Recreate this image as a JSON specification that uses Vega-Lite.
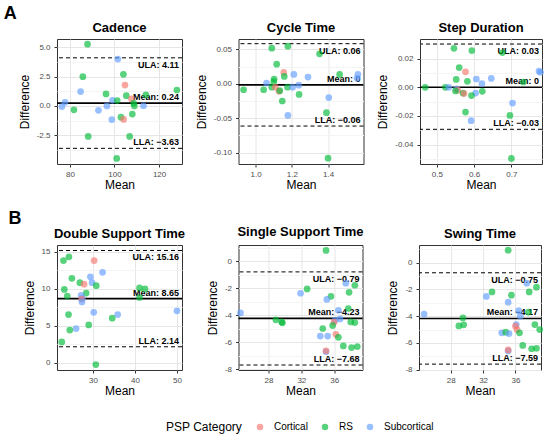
{
  "$schema": "https://vega.github.io/schema/vega-lite/v6.json",
  "background": "white",
  "padding": {"left": 3, "top": 5, "right": 5, "bottom": 5},
  "datasets": {
    "pts": [
      {"p": "cad", "m": 87.9, "d": 5.28, "c": "RS"},
      {"p": "cad", "m": 101.5, "d": 4.0, "c": "Subcortical"},
      {"p": "cad", "m": 104.0, "d": 2.7, "c": "RS"},
      {"p": "cad", "m": 85.8, "d": 2.5, "c": "RS"},
      {"p": "cad", "m": 104.7, "d": 1.78, "c": "Cortical"},
      {"p": "cad", "m": 84.8, "d": 1.22, "c": "Subcortical"},
      {"p": "cad", "m": 96.2, "d": 1.02, "c": "RS"},
      {"p": "cad", "m": 105.3, "d": 0.87, "c": "RS"},
      {"p": "cad", "m": 107.6, "d": 0.6, "c": "Cortical"},
      {"p": "cad", "m": 114.1, "d": 0.95, "c": "RS"},
      {"p": "cad", "m": 128.0, "d": 1.36, "c": "RS"},
      {"p": "cad", "m": 77.8, "d": 0.31, "c": "Subcortical"},
      {"p": "cad", "m": 76.4, "d": -0.06, "c": "Subcortical"},
      {"p": "cad", "m": 81.8, "d": -0.34, "c": "RS"},
      {"p": "cad", "m": 92.8, "d": -0.38, "c": "Subcortical"},
      {"p": "cad", "m": 96.6, "d": 0.0, "c": "Subcortical"},
      {"p": "cad", "m": 99.1, "d": 0.48, "c": "Subcortical"},
      {"p": "cad", "m": 101.2, "d": 0.45, "c": "RS"},
      {"p": "cad", "m": 108.6, "d": 0.23, "c": "RS"},
      {"p": "cad", "m": 108.9, "d": 0.0, "c": "RS"},
      {"p": "cad", "m": 113.0, "d": 0.01, "c": "Subcortical"},
      {"p": "cad", "m": 108.0, "d": -0.7, "c": "RS"},
      {"p": "cad", "m": 102.9, "d": -0.97, "c": "RS"},
      {"p": "cad", "m": 98.8, "d": -1.17, "c": "Subcortical"},
      {"p": "cad", "m": 104.1, "d": -1.16, "c": "Cortical"},
      {"p": "cad", "m": 88.2, "d": -2.61, "c": "RS"},
      {"p": "cad", "m": 106.8, "d": -2.61, "c": "RS"},
      {"p": "cad", "m": 101.0, "d": -4.49, "c": "RS"},

      {"p": "cyc", "m": 1.089, "d": 0.0517, "c": "RS"},
      {"p": "cyc", "m": 1.178, "d": 0.0546, "c": "RS"},
      {"p": "cyc", "m": 1.353, "d": 0.0435, "c": "RS"},
      {"p": "cyc", "m": 1.116, "d": 0.0285, "c": "RS"},
      {"p": "cyc", "m": 1.155, "d": 0.0164, "c": "Cortical"},
      {"p": "cyc", "m": 1.158, "d": 0.0106, "c": "RS"},
      {"p": "cyc", "m": 1.211, "d": 0.0135, "c": "Subcortical"},
      {"p": "cyc", "m": 1.289, "d": 0.0097, "c": "Subcortical"},
      {"p": "cyc", "m": 1.464, "d": 0.0135, "c": "RS"},
      {"p": "cyc", "m": 1.565, "d": 0.0135, "c": "Subcortical"},
      {"p": "cyc", "m": 1.56, "d": 0.008, "c": "Subcortical"},
      {"p": "cyc", "m": 1.102, "d": 0.0068, "c": "RS"},
      {"p": "cyc", "m": 1.1, "d": 0.003, "c": "RS"},
      {"p": "cyc", "m": 1.06, "d": 0.001, "c": "Subcortical"},
      {"p": "cyc", "m": 1.089, "d": -0.005, "c": "RS"},
      {"p": "cyc", "m": 1.109, "d": -0.005, "c": "Cortical"},
      {"p": "cyc", "m": 1.129, "d": -0.011, "c": "Cortical"},
      {"p": "cyc", "m": 1.133, "d": -0.01, "c": "RS"},
      {"p": "cyc", "m": 1.176, "d": -0.005, "c": "RS"},
      {"p": "cyc", "m": 1.204, "d": -0.005, "c": "Subcortical"},
      {"p": "cyc", "m": 1.238, "d": -0.002, "c": "Subcortical"},
      {"p": "cyc", "m": 0.933, "d": -0.0087, "c": "RS"},
      {"p": "cyc", "m": 1.044, "d": -0.0087, "c": "RS"},
      {"p": "cyc", "m": 1.24, "d": -0.0155, "c": "RS"},
      {"p": "cyc", "m": 1.147, "d": -0.025, "c": "RS"},
      {"p": "cyc", "m": 1.404, "d": -0.02, "c": "Subcortical"},
      {"p": "cyc", "m": 1.178, "d": -0.046, "c": "Subcortical"},
      {"p": "cyc", "m": 1.391, "d": -0.042, "c": "RS"},
      {"p": "cyc", "m": 1.4, "d": -0.108, "c": "RS"},

      {"p": "step", "m": 0.546, "d": 0.0272, "c": "RS"},
      {"p": "step", "m": 0.594, "d": 0.0256, "c": "RS"},
      {"p": "step", "m": 0.676, "d": 0.0242, "c": "RS"},
      {"p": "step", "m": 0.774, "d": 0.0113, "c": "Subcortical"},
      {"p": "step", "m": 0.778, "d": 0.0105, "c": "Subcortical"},
      {"p": "step", "m": 0.56, "d": 0.0138, "c": "RS"},
      {"p": "step", "m": 0.577, "d": 0.0108, "c": "Cortical"},
      {"p": "step", "m": 0.552, "d": 0.0055, "c": "RS"},
      {"p": "step", "m": 0.582, "d": 0.0042, "c": "RS"},
      {"p": "step", "m": 0.606, "d": 0.0058, "c": "Subcortical"},
      {"p": "step", "m": 0.621, "d": 0.0025, "c": "Subcortical"},
      {"p": "step", "m": 0.646, "d": 0.0062, "c": "Subcortical"},
      {"p": "step", "m": 0.732, "d": 0.0037, "c": "RS"},
      {"p": "step", "m": 0.469, "d": 0.0, "c": "RS"},
      {"p": "step", "m": 0.523, "d": 0.0, "c": "RS"},
      {"p": "step", "m": 0.532, "d": 0.0, "c": "Subcortical"},
      {"p": "step", "m": 0.553, "d": -0.001, "c": "Subcortical"},
      {"p": "step", "m": 0.556, "d": -0.002, "c": "Cortical"},
      {"p": "step", "m": 0.55, "d": -0.0025, "c": "RS"},
      {"p": "step", "m": 0.57, "d": -0.004, "c": "RS"},
      {"p": "step", "m": 0.573, "d": -0.0044, "c": "Cortical"},
      {"p": "step", "m": 0.604, "d": -0.004, "c": "Subcortical"},
      {"p": "step", "m": 0.622, "d": -0.0028, "c": "RS"},
      {"p": "step", "m": 0.593, "d": -0.0058, "c": "RS"},
      {"p": "step", "m": 0.703, "d": -0.011, "c": "Subcortical"},
      {"p": "step", "m": 0.577, "d": -0.0173, "c": "RS"},
      {"p": "step", "m": 0.592, "d": -0.0233, "c": "Subcortical"},
      {"p": "step", "m": 0.696, "d": -0.0196, "c": "RS"},
      {"p": "step", "m": 0.7, "d": -0.0496, "c": "RS"},

      {"p": "dst", "m": 23.0, "d": 13.8, "c": "RS"},
      {"p": "dst", "m": 24.3, "d": 14.3, "c": "RS"},
      {"p": "dst", "m": 30.3, "d": 13.8, "c": "Cortical"},
      {"p": "dst", "m": 32.3, "d": 12.2, "c": "Subcortical"},
      {"p": "dst", "m": 25.0, "d": 11.4, "c": "RS"},
      {"p": "dst", "m": 29.4, "d": 11.6, "c": "Subcortical"},
      {"p": "dst", "m": 26.9, "d": 10.8, "c": "RS"},
      {"p": "dst", "m": 27.9, "d": 10.6, "c": "Cortical"},
      {"p": "dst", "m": 29.8, "d": 10.8, "c": "Subcortical"},
      {"p": "dst", "m": 30.8, "d": 10.4, "c": "RS"},
      {"p": "dst", "m": 23.2, "d": 9.9, "c": "RS"},
      {"p": "dst", "m": 28.4, "d": 9.4, "c": "RS"},
      {"p": "dst", "m": 23.9, "d": 9.0, "c": "RS"},
      {"p": "dst", "m": 27.2, "d": 9.1, "c": "Subcortical"},
      {"p": "dst", "m": 27.5, "d": 8.7, "c": "Subcortical"},
      {"p": "dst", "m": 27.3, "d": 8.6, "c": "Cortical"},
      {"p": "dst", "m": 27.4, "d": 8.2, "c": "Subcortical"},
      {"p": "dst", "m": 41.1, "d": 10.1, "c": "RS"},
      {"p": "dst", "m": 42.4, "d": 9.96, "c": "RS"},
      {"p": "dst", "m": 41.1, "d": 8.8, "c": "RS"},
      {"p": "dst", "m": 30.2, "d": 6.8, "c": "Subcortical"},
      {"p": "dst", "m": 50.0, "d": 7.0, "c": "Subcortical"},
      {"p": "dst", "m": 24.2, "d": 6.5, "c": "RS"},
      {"p": "dst", "m": 35.9, "d": 6.5, "c": "Subcortical"},
      {"p": "dst", "m": 34.6, "d": 6.0, "c": "RS"},
      {"p": "dst", "m": 29.0, "d": 5.1, "c": "RS"},
      {"p": "dst", "m": 26.0, "d": 4.6, "c": "Subcortical"},
      {"p": "dst", "m": 24.5, "d": 4.4, "c": "RS"},
      {"p": "dst", "m": 22.6, "d": 2.8, "c": "RS"},
      {"p": "dst", "m": 30.7, "d": -0.27, "c": "RS"},

      {"p": "sst", "m": 35.0, "d": 0.8, "c": "RS"},
      {"p": "sst", "m": 37.4, "d": -1.63, "c": "Subcortical"},
      {"p": "sst", "m": 38.5, "d": -1.78, "c": "RS"},
      {"p": "sst", "m": 32.7, "d": -2.05, "c": "RS"},
      {"p": "sst", "m": 31.9, "d": -2.37, "c": "Subcortical"},
      {"p": "sst", "m": 37.8, "d": -2.3, "c": "RS"},
      {"p": "sst", "m": 35.6, "d": -2.6, "c": "RS"},
      {"p": "sst", "m": 35.1, "d": -2.83, "c": "Subcortical"},
      {"p": "sst", "m": 36.5, "d": -3.63, "c": "Subcortical"},
      {"p": "sst", "m": 37.7, "d": -3.5, "c": "RS"},
      {"p": "sst", "m": 24.6, "d": -3.83, "c": "Subcortical"},
      {"p": "sst", "m": 36.7, "d": -4.27, "c": "Subcortical"},
      {"p": "sst", "m": 28.9, "d": -4.34, "c": "RS"},
      {"p": "sst", "m": 29.6, "d": -4.49, "c": "RS"},
      {"p": "sst", "m": 29.7, "d": -4.56, "c": "RS"},
      {"p": "sst", "m": 38.0, "d": -4.49, "c": "RS"},
      {"p": "sst", "m": 38.5, "d": -4.54, "c": "RS"},
      {"p": "sst", "m": 36.08, "d": -4.37, "c": "Subcortical"},
      {"p": "sst", "m": 35.97, "d": -4.51, "c": "Cortical"},
      {"p": "sst", "m": 35.8, "d": -4.76, "c": "RS"},
      {"p": "sst", "m": 34.6, "d": -4.98, "c": "RS"},
      {"p": "sst", "m": 36.2, "d": -5.41, "c": "Cortical"},
      {"p": "sst", "m": 34.3, "d": -5.54, "c": "Subcortical"},
      {"p": "sst", "m": 35.2, "d": -5.54, "c": "Subcortical"},
      {"p": "sst", "m": 36.5, "d": -5.63, "c": "RS"},
      {"p": "sst", "m": 37.1, "d": -6.27, "c": "RS"},
      {"p": "sst", "m": 38.1, "d": -6.39, "c": "RS"},
      {"p": "sst", "m": 38.8, "d": -6.32, "c": "RS"},
      {"p": "sst", "m": 35.0, "d": -6.7, "c": "Subcortical"},
      {"p": "sst", "m": 35.0, "d": -6.63, "c": "Cortical"},

      {"p": "swg", "m": 35.1, "d": 0.94, "c": "RS"},
      {"p": "swg", "m": 37.4, "d": -1.53, "c": "Subcortical"},
      {"p": "swg", "m": 38.6, "d": -1.83, "c": "RS"},
      {"p": "swg", "m": 33.1, "d": -2.18, "c": "RS"},
      {"p": "swg", "m": 37.7, "d": -2.18, "c": "RS"},
      {"p": "swg", "m": 32.4, "d": -2.52, "c": "Subcortical"},
      {"p": "swg", "m": 35.5, "d": -2.43, "c": "RS"},
      {"p": "swg", "m": 35.1, "d": -2.95, "c": "Subcortical"},
      {"p": "swg", "m": 36.4, "d": -3.59, "c": "Subcortical"},
      {"p": "swg", "m": 37.6, "d": -3.69, "c": "RS"},
      {"p": "swg", "m": 24.7, "d": -3.84, "c": "Subcortical"},
      {"p": "swg", "m": 36.6, "d": -4.0, "c": "Subcortical"},
      {"p": "swg", "m": 29.5, "d": -4.13, "c": "RS"},
      {"p": "swg", "m": 29.0, "d": -4.73, "c": "RS"},
      {"p": "swg", "m": 29.6, "d": -4.65, "c": "RS"},
      {"p": "swg", "m": 36.1, "d": -4.63, "c": "Subcortical"},
      {"p": "swg", "m": 36.0, "d": -4.75, "c": "Cortical"},
      {"p": "swg", "m": 36.2, "d": -5.0, "c": "Cortical"},
      {"p": "swg", "m": 38.4, "d": -4.63, "c": "RS"},
      {"p": "swg", "m": 39.0, "d": -5.0, "c": "RS"},
      {"p": "swg", "m": 36.5, "d": -5.25, "c": "RS"},
      {"p": "swg", "m": 34.3, "d": -5.25, "c": "Subcortical"},
      {"p": "swg", "m": 34.8, "d": -5.2, "c": "RS"},
      {"p": "swg", "m": 35.2, "d": -5.3, "c": "Subcortical"},
      {"p": "swg", "m": 36.9, "d": -6.19, "c": "RS"},
      {"p": "swg", "m": 38.0, "d": -6.44, "c": "RS"},
      {"p": "swg", "m": 38.6, "d": -6.41, "c": "RS"},
      {"p": "swg", "m": 35.1, "d": -6.6, "c": "Subcortical"},
      {"p": "swg", "m": 35.1, "d": -6.53, "c": "Cortical"}
    ],
    "lines": [
      {"p": "cad", "k": "ULA", "d": 4.11, "m": 130.3, "lab": "ULA: 4.11"},
      {"p": "cad", "k": "Mean", "d": 0.24, "m": 130.3, "lab": "Mean: 0.24"},
      {"p": "cad", "k": "LLA", "d": -3.63, "m": 130.3, "lab": "LLA: −3.63"},
      {"p": "cyc", "k": "ULA", "d": 0.0582, "m": 1.596, "lab": "ULA: 0.06"},
      {"p": "cyc", "k": "Mean", "d": -0.0016, "m": 1.596, "lab": "Mean: 0"},
      {"p": "cyc", "k": "LLA", "d": -0.0614, "m": 1.596, "lab": "LLA: −0.06"},
      {"p": "step", "k": "ULA", "d": 0.0302, "m": 0.782, "lab": "ULA: 0.03"},
      {"p": "step", "k": "Mean", "d": 0.0, "m": 0.782, "lab": "Mean: 0"},
      {"p": "step", "k": "LLA", "d": -0.0293, "m": 0.782, "lab": "LLA: −0.03"},
      {"p": "dst", "k": "ULA", "d": 15.16, "m": 51.2, "lab": "ULA: 15.16"},
      {"p": "dst", "k": "Mean", "d": 8.65, "m": 51.2, "lab": "Mean: 8.65"},
      {"p": "dst", "k": "LLA", "d": 2.14, "m": 51.2, "lab": "LLA: 2.14"},
      {"p": "sst", "k": "ULA", "d": -0.79, "m": 39.43, "lab": "ULA: −0.79"},
      {"p": "sst", "k": "Mean", "d": -4.23, "m": 39.43, "lab": "Mean: −4.23"},
      {"p": "sst", "k": "LLA", "d": -7.68, "m": 39.43, "lab": "LLA: −7.68"},
      {"p": "swg", "k": "ULA", "d": -0.75, "m": 39.16, "lab": "ULA: −0.75"},
      {"p": "swg", "k": "Mean", "d": -4.17, "m": 39.16, "lab": "Mean: −4.17"},
      {"p": "swg", "k": "LLA", "d": -7.59, "m": 39.16, "lab": "LLA: −7.59"}
    ]
  },
  "vconcat": [
    {
      "title": {"text": "A", "anchor": "start", "fontSize": 18, "offset": -2, "dx": -14},
      "bounds": "flush",
      "spacing": 56.5,
      "hconcat": [
        {
          "title": "Cadence",
          "width": 125,
          "height": 125,
          "encoding": {
            "y": {"field": "d", "type": "quantitative", "title": "Difference",
              "scale": {"domain": [-4.97, 5.72], "nice": false, "zero": false},
              "axis": {"values": [-2.5, 0, 2.5, 5, -3.75, -1.25, 1.25, 3.75], "format": ".1f", "labelOverlap": false,
                "labelExpr": "abs(datum.value/2.5-round(datum.value/2.5))<0.001 ? replace(datum.label,'−','-') : ''",
                "gridColor": {"condition": {"test": "abs(datum.value/2.5-round(datum.value/2.5))<0.001", "value": "#e6e6e6"}, "value": "#f4f4f4"},
                "tickOpacity": {"condition": {"test": "abs(datum.value/2.5-round(datum.value/2.5))<0.001", "value": 1}, "value": 0}}}
          },
          "layer": [
            {"data": {"name": "lines"}, "transform": [{"filter": "datum.p == 'cad' && datum.k != 'Mean'"}],
             "mark": {"type": "rule", "color": "#000", "strokeWidth": 1, "strokeDash": [4, 3]}},
            {"data": {"name": "lines"}, "transform": [{"filter": "datum.p == 'cad' && datum.k == 'Mean'"}],
             "mark": {"type": "rule", "color": "#000", "strokeWidth": 1.6}},
            {"data": {"name": "lines"}, "transform": [{"filter": "datum.p == 'cad' && datum.k == 'ULA'"}],
             "mark": {"type": "text", "align": "right", "baseline": "top", "dx": -3, "dy": 3, "fontSize": 9, "fontWeight": "bold", "color": "#000"},
             "encoding": {"x": {"field": "m", "type": "quantitative", "title": "Mean"}, "text": {"field": "lab"}}},
            {"data": {"name": "lines"}, "transform": [{"filter": "datum.p == 'cad' && datum.k != 'ULA'"}],
             "mark": {"type": "text", "align": "right", "baseline": "alphabetic", "dx": -3, "dy": -3, "fontSize": 9, "fontWeight": "bold", "color": "#000"},
             "encoding": {"x": {"field": "m", "type": "quantitative", "title": "Mean"}, "text": {"field": "lab"}}},
            {"data": {"name": "pts"}, "transform": [{"filter": "datum.p == 'cad'"}],
             "mark": {"type": "circle", "size": 45, "opacity": 0.65},
             "encoding": {
               "x": {"field": "m", "type": "quantitative", "title": "Mean",
                 "scale": {"domain": [74.2, 130.3], "nice": false, "zero": false},
                 "axis": {"values": [80, 90, 100, 110, 120, 130], "format": ".0f", "labelOverlap": false, "labelSeparation": -40, "gridColor": "#e6e6e6"}},
               "color": {"field": "c", "type": "nominal", "title": "PSP Category",
                 "scale": {"domain": ["Cortical", "RS", "Subcortical"], "range": ["#F8766D", "#00BA38", "#619CFF"]}}
             }}
          ]
        },
        {
          "title": "Cycle Time",
          "width": 125,
          "height": 125,
          "encoding": {
            "y": {"field": "d", "type": "quantitative", "title": "Difference",
              "scale": {"domain": [-0.1165, 0.065], "nice": false, "zero": false},
              "axis": {"values": [-0.1, -0.05, 0, 0.05, -0.075, -0.025, 0.025], "format": ".2f", "labelOverlap": false,
                "labelExpr": "abs(datum.value/0.05-round(datum.value/0.05))<0.001 ? replace(datum.label,'−','-') : ''",
                "gridColor": {"condition": {"test": "abs(datum.value/0.05-round(datum.value/0.05))<0.001", "value": "#e6e6e6"}, "value": "#f4f4f4"},
                "tickOpacity": {"condition": {"test": "abs(datum.value/0.05-round(datum.value/0.05))<0.001", "value": 1}, "value": 0}}}
          },
          "layer": [
            {"data": {"name": "lines"}, "transform": [{"filter": "datum.p == 'cyc' && datum.k != 'Mean'"}],
             "mark": {"type": "rule", "color": "#000", "strokeWidth": 1, "strokeDash": [4, 3]}},
            {"data": {"name": "lines"}, "transform": [{"filter": "datum.p == 'cyc' && datum.k == 'Mean'"}],
             "mark": {"type": "rule", "color": "#000", "strokeWidth": 1.6}},
            {"data": {"name": "lines"}, "transform": [{"filter": "datum.p == 'cyc' && datum.k == 'ULA'"}],
             "mark": {"type": "text", "align": "right", "baseline": "top", "dx": -3, "dy": 3, "fontSize": 9, "fontWeight": "bold", "color": "#000"},
             "encoding": {"x": {"field": "m", "type": "quantitative", "title": "Mean"}, "text": {"field": "lab"}}},
            {"data": {"name": "lines"}, "transform": [{"filter": "datum.p == 'cyc' && datum.k != 'ULA'"}],
             "mark": {"type": "text", "align": "right", "baseline": "alphabetic", "dx": -3, "dy": -3, "fontSize": 9, "fontWeight": "bold", "color": "#000"},
             "encoding": {"x": {"field": "m", "type": "quantitative", "title": "Mean"}, "text": {"field": "lab"}}},
            {"data": {"name": "pts"}, "transform": [{"filter": "datum.p == 'cyc'"}],
             "mark": {"type": "circle", "size": 45, "opacity": 0.65},
             "encoding": {
               "x": {"field": "m", "type": "quantitative", "title": "Mean",
                 "scale": {"domain": [0.905, 1.596], "nice": false, "zero": false},
                 "axis": {"values": [1.0, 1.2, 1.4, 1.1, 1.3, 1.5], "format": ".1f", "labelOverlap": false,
                   "labelExpr": "abs(datum.value/0.2-round(datum.value/0.2))<0.001 ? datum.label : ''",
                   "gridColor": {"condition": {"test": "abs(datum.value/0.2-round(datum.value/0.2))<0.001", "value": "#e6e6e6"}, "value": "#f4f4f4"},
                   "tickOpacity": {"condition": {"test": "abs(datum.value/0.2-round(datum.value/0.2))<0.001", "value": 1}, "value": 0}}},
               "color": {"field": "c", "type": "nominal", "title": "PSP Category",
                 "scale": {"domain": ["Cortical", "RS", "Subcortical"], "range": ["#F8766D", "#00BA38", "#619CFF"]}}
             }}
          ]
        },
        {
          "title": "Step Duration",
          "width": 122,
          "height": 125,
          "encoding": {
            "y": {"field": "d", "type": "quantitative", "title": "Difference",
              "scale": {"domain": [-0.0535, 0.0337], "nice": false, "zero": false},
              "axis": {"values": [-0.04, -0.02, 0, 0.02, -0.05, -0.03, -0.01, 0.01, 0.03], "format": ".2f", "labelOverlap": false,
                "labelExpr": "abs(datum.value/0.02-round(datum.value/0.02))<0.001 ? replace(datum.label,'−','-') : ''",
                "gridColor": {"condition": {"test": "abs(datum.value/0.02-round(datum.value/0.02))<0.001", "value": "#e6e6e6"}, "value": "#f4f4f4"},
                "tickOpacity": {"condition": {"test": "abs(datum.value/0.02-round(datum.value/0.02))<0.001", "value": 1}, "value": 0}}}
          },
          "layer": [
            {"data": {"name": "lines"}, "transform": [{"filter": "datum.p == 'step' && datum.k != 'Mean'"}],
             "mark": {"type": "rule", "color": "#000", "strokeWidth": 1, "strokeDash": [4, 3]}},
            {"data": {"name": "lines"}, "transform": [{"filter": "datum.p == 'step' && datum.k == 'Mean'"}],
             "mark": {"type": "rule", "color": "#000", "strokeWidth": 1.6}},
            {"data": {"name": "lines"}, "transform": [{"filter": "datum.p == 'step' && datum.k == 'ULA'"}],
             "mark": {"type": "text", "align": "right", "baseline": "top", "dx": -3, "dy": 3, "fontSize": 9, "fontWeight": "bold", "color": "#000"},
             "encoding": {"x": {"field": "m", "type": "quantitative", "title": "Mean"}, "text": {"field": "lab"}}},
            {"data": {"name": "lines"}, "transform": [{"filter": "datum.p == 'step' && datum.k != 'ULA'"}],
             "mark": {"type": "text", "align": "right", "baseline": "alphabetic", "dx": -3, "dy": -3, "fontSize": 9, "fontWeight": "bold", "color": "#000"},
             "encoding": {"x": {"field": "m", "type": "quantitative", "title": "Mean"}, "text": {"field": "lab"}}},
            {"data": {"name": "pts"}, "transform": [{"filter": "datum.p == 'step'"}],
             "mark": {"type": "circle", "size": 45, "opacity": 0.65},
             "encoding": {
               "x": {"field": "m", "type": "quantitative", "title": "Mean",
                 "scale": {"domain": [0.455, 0.782], "nice": false, "zero": false},
                 "axis": {"values": [0.5, 0.6, 0.7, 0.55, 0.65, 0.75], "format": ".1f", "labelOverlap": false,
                   "labelExpr": "abs(datum.value/0.1-round(datum.value/0.1))<0.001 ? datum.label : ''",
                   "gridColor": {"condition": {"test": "abs(datum.value/0.1-round(datum.value/0.1))<0.001", "value": "#e6e6e6"}, "value": "#f4f4f4"},
                   "tickOpacity": {"condition": {"test": "abs(datum.value/0.1-round(datum.value/0.1))<0.001", "value": 1}, "value": 0}}},
               "color": {"field": "c", "type": "nominal", "title": "PSP Category",
                 "scale": {"domain": ["Cortical", "RS", "Subcortical"], "range": ["#F8766D", "#00BA38", "#619CFF"]}}
             }}
          ]
        }
      ]
    },
    {
      "title": {"text": "B", "anchor": "start", "fontSize": 18, "offset": -2, "dx": -14},
      "bounds": "flush",
      "spacing": 56.5,
      "hconcat": [
        {
          "title": "Double Support Time",
          "width": 125,
          "height": 125,
          "encoding": {
            "y": {"field": "d", "type": "quantitative", "title": "Difference",
              "scale": {"domain": [-1.0, 15.9], "nice": false, "zero": false},
              "axis": {"values": [0, 5, 10, 15, 2.5, 7.5, 12.5], "format": ".0f", "labelOverlap": false,
                "labelExpr": "abs(datum.value/5-round(datum.value/5))<0.001 ? datum.label : ''",
                "gridColor": {"condition": {"test": "abs(datum.value/5-round(datum.value/5))<0.001", "value": "#e6e6e6"}, "value": "#f4f4f4"},
                "tickOpacity": {"condition": {"test": "abs(datum.value/5-round(datum.value/5))<0.001", "value": 1}, "value": 0}}}
          },
          "layer": [
            {"data": {"name": "lines"}, "transform": [{"filter": "datum.p == 'dst' && datum.k != 'Mean'"}],
             "mark": {"type": "rule", "color": "#000", "strokeWidth": 1, "strokeDash": [4, 3]}},
            {"data": {"name": "lines"}, "transform": [{"filter": "datum.p == 'dst' && datum.k == 'Mean'"}],
             "mark": {"type": "rule", "color": "#000", "strokeWidth": 1.6}},
            {"data": {"name": "lines"}, "transform": [{"filter": "datum.p == 'dst' && datum.k == 'ULA'"}],
             "mark": {"type": "text", "align": "right", "baseline": "top", "dx": -3, "dy": 3, "fontSize": 9, "fontWeight": "bold", "color": "#000"},
             "encoding": {"x": {"field": "m", "type": "quantitative", "title": "Mean"}, "text": {"field": "lab"}}},
            {"data": {"name": "lines"}, "transform": [{"filter": "datum.p == 'dst' && datum.k != 'ULA'"}],
             "mark": {"type": "text", "align": "right", "baseline": "alphabetic", "dx": -3, "dy": -3, "fontSize": 9, "fontWeight": "bold", "color": "#000"},
             "encoding": {"x": {"field": "m", "type": "quantitative", "title": "Mean"}, "text": {"field": "lab"}}},
            {"data": {"name": "pts"}, "transform": [{"filter": "datum.p == 'dst'"}],
             "mark": {"type": "circle", "size": 45, "opacity": 0.65},
             "encoding": {
               "x": {"field": "m", "type": "quantitative", "title": "Mean",
                 "scale": {"domain": [21.46, 51.2], "nice": false, "zero": false},
                 "axis": {"values": [30, 40, 50], "format": ".0f", "labelOverlap": false, "labelSeparation": -40, "gridColor": "#e6e6e6"}},
               "color": {"field": "c", "type": "nominal", "title": "PSP Category",
                 "scale": {"domain": ["Cortical", "RS", "Subcortical"], "range": ["#F8766D", "#00BA38", "#619CFF"]}}
             }}
          ]
        },
        {
          "title": "Single Support Time",
          "width": 124,
          "height": 125,
          "encoding": {
            "y": {"field": "d", "type": "quantitative", "title": "Difference",
              "scale": {"domain": [-8.05, 1.2], "nice": false, "zero": false},
              "axis": {"values": [-8, -6, -4, -2, 0, -7, -5, -3, -1, 1], "format": ".0f", "labelOverlap": false,
                "labelExpr": "abs(datum.value/2-round(datum.value/2))<0.001 ? replace(datum.label,'−','-') : ''",
                "gridColor": {"condition": {"test": "abs(datum.value/2-round(datum.value/2))<0.001", "value": "#e6e6e6"}, "value": "#f4f4f4"},
                "tickOpacity": {"condition": {"test": "abs(datum.value/2-round(datum.value/2))<0.001", "value": 1}, "value": 0}}}
          },
          "layer": [
            {"data": {"name": "lines"}, "transform": [{"filter": "datum.p == 'sst' && datum.k != 'Mean'"}],
             "mark": {"type": "rule", "color": "#000", "strokeWidth": 1, "strokeDash": [4, 3]}},
            {"data": {"name": "lines"}, "transform": [{"filter": "datum.p == 'sst' && datum.k == 'Mean'"}],
             "mark": {"type": "rule", "color": "#000", "strokeWidth": 1.6}},
            {"data": {"name": "lines"}, "transform": [{"filter": "datum.p == 'sst' && datum.k == 'ULA'"}],
             "mark": {"type": "text", "align": "right", "baseline": "top", "dx": -3, "dy": 3, "fontSize": 9, "fontWeight": "bold", "color": "#000"},
             "encoding": {"x": {"field": "m", "type": "quantitative", "title": "Mean"}, "text": {"field": "lab"}}},
            {"data": {"name": "lines"}, "transform": [{"filter": "datum.p == 'sst' && datum.k != 'ULA'"}],
             "mark": {"type": "text", "align": "right", "baseline": "alphabetic", "dx": -3, "dy": -3, "fontSize": 9, "fontWeight": "bold", "color": "#000"},
             "encoding": {"x": {"field": "m", "type": "quantitative", "title": "Mean"}, "text": {"field": "lab"}}},
            {"data": {"name": "pts"}, "transform": [{"filter": "datum.p == 'sst'"}],
             "mark": {"type": "circle", "size": 45, "opacity": 0.65},
             "encoding": {
               "x": {"field": "m", "type": "quantitative", "title": "Mean",
                 "scale": {"domain": [24.36, 39.43], "nice": false, "zero": false},
                 "axis": {"values": [28, 32, 36], "format": ".0f", "labelOverlap": false, "labelSeparation": -40, "gridColor": "#e6e6e6"}},
               "color": {"field": "c", "type": "nominal", "title": "PSP Category",
                 "scale": {"domain": ["Cortical", "RS", "Subcortical"], "range": ["#F8766D", "#00BA38", "#619CFF"]}}
             }}
          ]
        },
        {
          "title": "Swing Time",
          "width": 122,
          "height": 125,
          "encoding": {
            "y": {"field": "d", "type": "quantitative", "title": "Difference",
              "scale": {"domain": [-8.03, 1.33], "nice": false, "zero": false},
              "axis": {"values": [-8, -6, -4, -2, 0, -7, -5, -3, -1, 1], "format": ".0f", "labelOverlap": false,
                "labelExpr": "abs(datum.value/2-round(datum.value/2))<0.001 ? replace(datum.label,'−','-') : ''",
                "gridColor": {"condition": {"test": "abs(datum.value/2-round(datum.value/2))<0.001", "value": "#e6e6e6"}, "value": "#f4f4f4"},
                "tickOpacity": {"condition": {"test": "abs(datum.value/2-round(datum.value/2))<0.001", "value": 1}, "value": 0}}}
          },
          "layer": [
            {"data": {"name": "lines"}, "transform": [{"filter": "datum.p == 'swg' && datum.k != 'Mean'"}],
             "mark": {"type": "rule", "color": "#000", "strokeWidth": 1, "strokeDash": [4, 3]}},
            {"data": {"name": "lines"}, "transform": [{"filter": "datum.p == 'swg' && datum.k == 'Mean'"}],
             "mark": {"type": "rule", "color": "#000", "strokeWidth": 1.6}},
            {"data": {"name": "lines"}, "transform": [{"filter": "datum.p == 'swg' && datum.k == 'ULA'"}],
             "mark": {"type": "text", "align": "right", "baseline": "top", "dx": -3, "dy": 3, "fontSize": 9, "fontWeight": "bold", "color": "#000"},
             "encoding": {"x": {"field": "m", "type": "quantitative", "title": "Mean"}, "text": {"field": "lab"}}},
            {"data": {"name": "lines"}, "transform": [{"filter": "datum.p == 'swg' && datum.k != 'ULA'"}],
             "mark": {"type": "text", "align": "right", "baseline": "alphabetic", "dx": -3, "dy": -3, "fontSize": 9, "fontWeight": "bold", "color": "#000"},
             "encoding": {"x": {"field": "m", "type": "quantitative", "title": "Mean"}, "text": {"field": "lab"}}},
            {"data": {"name": "pts"}, "transform": [{"filter": "datum.p == 'swg'"}],
             "mark": {"type": "circle", "size": 45, "opacity": 0.65},
             "encoding": {
               "x": {"field": "m", "type": "quantitative", "title": "Mean",
                 "scale": {"domain": [24.07, 39.16], "nice": false, "zero": false},
                 "axis": {"values": [28, 32, 36], "format": ".0f", "labelOverlap": false, "labelSeparation": -40, "gridColor": "#e6e6e6"}},
               "color": {"field": "c", "type": "nominal", "title": "PSP Category",
                 "scale": {"domain": ["Cortical", "RS", "Subcortical"], "range": ["#F8766D", "#00BA38", "#619CFF"]}}
             }}
          ]
        }
      ]
    }
  ],
  "spacing": 18,
  "config": {
    "font": "Liberation Sans",
    "view": {"stroke": "#333333", "strokeWidth": 1},
    "axis": {
      "labelFontSize": 8, "labelColor": "#4d4d4d", "labelFlush": false, "labelOverlap": false,
      "titleFontSize": 12, "titleFontWeight": "normal", "titleColor": "#000000",
      "tickColor": "#333333", "tickSize": 3, "domain": false
    },
    "axisX": {"labelAngle": 0, "labelPadding": 3, "titlePadding": 1},
    "axisY": {"labelPadding": 4, "titlePadding": 5},
    "title": {"fontSize": 13, "fontWeight": "bold", "color": "#000000", "offset": 4.5},
    "legend": {
      "orient": "none", "legendX": 109, "legendY": 383, "direction": "horizontal", "titleOrient": "left",
      "titleFontSize": 12, "titleFontWeight": "normal", "titleColor": "#000000", "titlePadding": 12,
      "labelFontSize": 10, "labelColor": "#000000", "labelOffset": 9, "columnPadding": 12,
      "symbolType": "circle", "symbolSize": 42, "symbolOpacity": 0.65, "symbolStrokeWidth": 0
    }
  }
}
